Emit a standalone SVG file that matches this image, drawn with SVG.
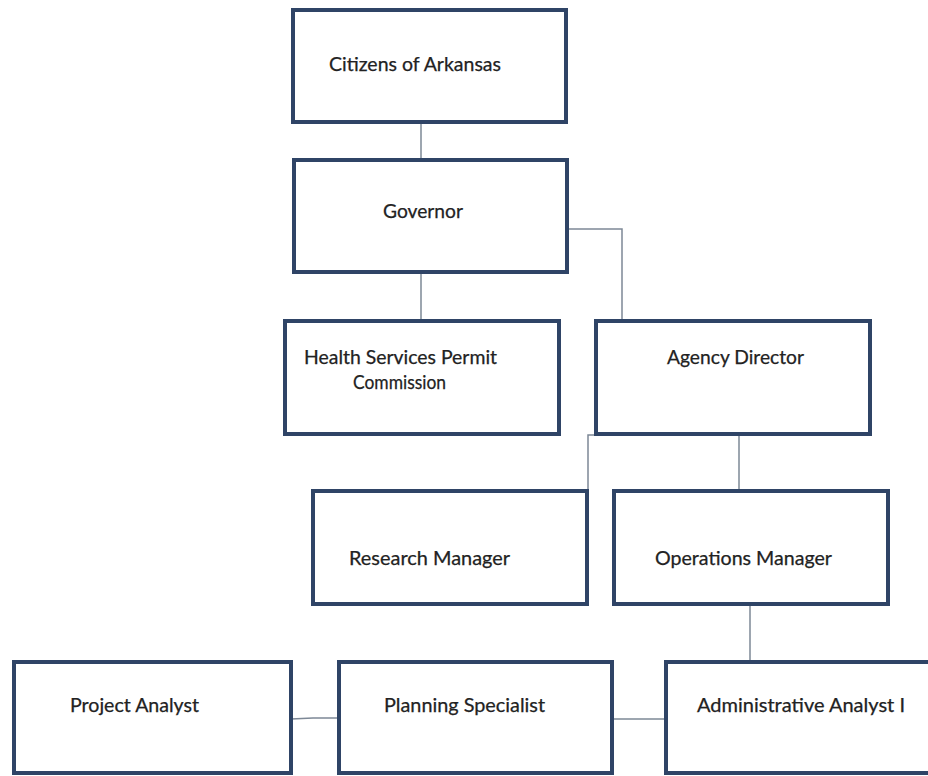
<svg xmlns="http://www.w3.org/2000/svg" width="928" height="776" viewBox="0 0 928 776">
<style>
.box{fill:#ffffff;stroke:#2f4466;stroke-width:4}
.lbl{font-family:Lato,"Liberation Sans",Arial,sans-serif;font-size:19px;fill:#222222;stroke:#222222;stroke-width:0.25;text-anchor:start}
.conn{fill:none;stroke:#7d8896;stroke-width:1.5}
</style>
<rect width="928" height="776" fill="#ffffff"/>
<g id="connectors">
<path class="conn" d="M421,122 V160"/>
<path class="conn" d="M421,272 V321"/>
<path class="conn" d="M567,229 H622 V321"/>
<path class="conn" d="M596,435 H588 V491"/>
<path class="conn" d="M739,434 V491"/>
<path class="conn" d="M750,604 V662"/>
<path class="conn" d="M291,719 L313,718 H339"/>
<path class="conn" d="M612,719 H666"/>
</g>
<g id="citizens">
<rect class="box" x="293" y="10" width="273" height="112"/>
<text class="lbl" x="329" y="71" textLength="172" lengthAdjust="spacingAndGlyphs">Citizens of Arkansas</text>
</g>
<g id="governor">
<rect class="box" x="294" y="160" width="273" height="112"/>
<text class="lbl" x="383" y="218" textLength="80" lengthAdjust="spacingAndGlyphs">Governor</text>
</g>
<g id="health">
<rect class="box" x="285" y="321" width="274" height="113"/>
<text class="lbl" x="304" y="364" textLength="193" lengthAdjust="spacingAndGlyphs">Health Services Permit</text>
<text class="lbl" x="353" y="389" textLength="93" lengthAdjust="spacingAndGlyphs">Commission</text>
</g>
<g id="agency">
<rect class="box" x="596" y="321" width="274" height="113"/>
<text class="lbl" x="667" y="364" textLength="137" lengthAdjust="spacingAndGlyphs">Agency Director</text>
</g>
<g id="research">
<rect class="box" x="313" y="491" width="274" height="113"/>
<text class="lbl" x="349" y="565" textLength="161" lengthAdjust="spacingAndGlyphs">Research Manager</text>
</g>
<g id="operations">
<rect class="box" x="614" y="491" width="274" height="113"/>
<text class="lbl" x="655" y="565" textLength="177" lengthAdjust="spacingAndGlyphs">Operations Manager</text>
</g>
<g id="project">
<rect class="box" x="14" y="662" width="277" height="111"/>
<text class="lbl" x="70" y="712" textLength="129" lengthAdjust="spacingAndGlyphs">Project Analyst</text>
</g>
<g id="planning">
<rect class="box" x="339" y="662" width="273" height="111"/>
<text class="lbl" x="384" y="712" textLength="161" lengthAdjust="spacingAndGlyphs">Planning Specialist</text>
</g>
<g id="admin">
<rect class="box" x="666" y="662" width="280" height="111"/>
<text class="lbl" x="697" y="712" textLength="208" lengthAdjust="spacingAndGlyphs">Administrative Analyst I</text>
</g>
</svg>
